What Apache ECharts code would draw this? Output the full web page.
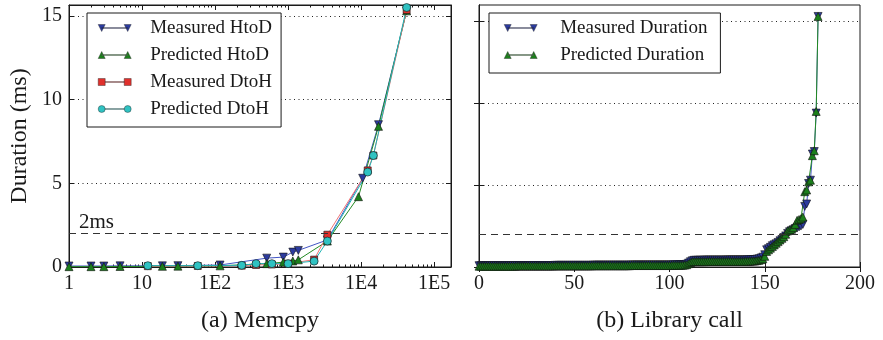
<!DOCTYPE html>
<html>
<head>
<meta charset="utf-8">
<script src="https://cdn.jsdelivr.net/npm/echarts@6/dist/echarts.min.js"></script>
<style>
  html, body { margin: 0; padding: 0; background: #ffffff; }
  #chart { width: 883px; height: 340px; }
</style>
</head>
<body>
<div id="chart"></div>
<script>
// ---- (a) Memcpy: transfer size (bytes) vs duration (ms) ----
const htodMeasuredSizes  = [1, 2, 3, 5, 19, 31, 117, 510, 860, 1160, 1380, 3450, 10500, 17300, 42000];
const htodMeasured       = [0.06, 0.06, 0.06, 0.07, 0.07, 0.08, 0.12, 0.53, 0.59, 0.89, 0.99, 1.62, 5.3, 8.5, 15.3];
const htodPredictedSizes = [1, 2, 3, 5, 19, 31, 117, 510, 860, 1160, 1380, 3450, 9200, 17300, 42000];
const htodPredicted      = [0.02, 0.02, 0.02, 0.03, 0.04, 0.05, 0.07, 0.2, 0.29, 0.36, 0.43, 1.55, 4.2, 8.4, 15.3];
const dtohSizes          = [12, 58, 232, 364, 600, 1000, 2270, 3450, 12300, 14700, 42000];
const dtohMeasured       = [0.05, 0.06, 0.08, 0.12, 0.15, 0.2, 0.44, 1.93, 5.77, 6.66, 15.35];
const dtohPredicted      = [0.08, 0.08, 0.1, 0.2, 0.2, 0.2, 0.35, 1.55, 5.67, 6.66, 15.5];

const memcpyTickValues  = [1, 10, 100, 1000, 10000, 100000];
const memcpyTickLabels  = ['1', '10', '1E2', '1E3', '1E4', '1E5'];
const memcpyMinorValues = [2, 3, 4, 5, 6, 7, 8, 9, 20, 30, 40, 50, 60, 70, 80, 90,
  200, 300, 400, 500, 600, 700, 800, 900, 2000, 3000, 4000, 5000, 6000, 7000, 8000, 9000,
  20000, 30000, 40000, 50000, 60000, 70000, 80000, 90000];

// ---- (b) Library call: per-call duration (ms), sorted ----
const libMeasured = [
  0.08, 0.08, 0.08, 0.08, 0.08, 0.08, 0.08, 0.08, 0.08, 0.08,
  0.08, 0.08, 0.08, 0.08, 0.08, 0.08, 0.08, 0.08, 0.08, 0.08,
  0.09, 0.09, 0.09, 0.09, 0.09, 0.09, 0.09, 0.09, 0.09, 0.09,
  0.09, 0.09, 0.09, 0.09, 0.09, 0.09, 0.09, 0.09, 0.09, 0.09,
  0.10, 0.10, 0.10, 0.10, 0.10, 0.10, 0.10, 0.10, 0.10, 0.10,
  0.10, 0.10, 0.10, 0.10, 0.10, 0.10, 0.10, 0.10, 0.10, 0.10,
  0.11, 0.11, 0.11, 0.11, 0.11, 0.11, 0.11, 0.11, 0.11, 0.11,
  0.11, 0.11, 0.11, 0.11, 0.11, 0.11, 0.11, 0.11, 0.11, 0.11,
  0.12, 0.12, 0.12, 0.12, 0.12, 0.12, 0.12, 0.12, 0.12, 0.12,
  0.12, 0.12, 0.12, 0.12, 0.12, 0.12, 0.12, 0.12, 0.12, 0.12,
  0.12, 0.12, 0.13, 0.13, 0.13, 0.13, 0.14, 0.14, 0.15, 0.17,
  0.24, 0.32, 0.38, 0.41, 0.41, 0.41, 0.41, 0.41, 0.42, 0.42,
  0.42, 0.42, 0.42, 0.42, 0.42, 0.42, 0.42, 0.42, 0.42, 0.42,
  0.43, 0.43, 0.43, 0.43, 0.43, 0.43, 0.43, 0.43, 0.43, 0.43,
  0.43, 0.44, 0.44, 0.45, 0.45, 0.46, 0.48, 0.50,
  0.55, 0.60, 0.75, 1.05, 1.12, 1.20, 1.30, 1.36, 1.42, 1.50,
  1.60, 1.68, 1.80, 1.90, 2.05, 2.15, 2.22, 2.28, 2.35, 2.40,
  2.45, 2.50, 2.60, 3.70, 3.85, 5.10, 5.30, 6.90, 7.05, 9.40,
  15.3
];
const libPredicted = [
  0.05, 0.05, 0.05, 0.05, 0.05, 0.05, 0.05, 0.05, 0.05, 0.05,
  0.05, 0.05, 0.05, 0.05, 0.05, 0.05, 0.05, 0.05, 0.05, 0.05,
  0.06, 0.06, 0.06, 0.06, 0.06, 0.06, 0.06, 0.06, 0.06, 0.06,
  0.06, 0.06, 0.06, 0.06, 0.06, 0.06, 0.06, 0.06, 0.06, 0.06,
  0.07, 0.07, 0.07, 0.07, 0.07, 0.07, 0.07, 0.07, 0.07, 0.07,
  0.07, 0.07, 0.07, 0.07, 0.07, 0.07, 0.07, 0.07, 0.07, 0.07,
  0.08, 0.08, 0.08, 0.08, 0.08, 0.08, 0.08, 0.08, 0.08, 0.08,
  0.08, 0.08, 0.08, 0.08, 0.08, 0.08, 0.08, 0.08, 0.08, 0.08,
  0.09, 0.09, 0.09, 0.09, 0.09, 0.09, 0.09, 0.09, 0.09, 0.09,
  0.09, 0.09, 0.09, 0.09, 0.09, 0.09, 0.09, 0.09, 0.09, 0.09,
  0.09, 0.09, 0.10, 0.10, 0.10, 0.10, 0.11, 0.11, 0.12, 0.14,
  0.20, 0.27, 0.32, 0.33, 0.33, 0.33, 0.33, 0.33, 0.33, 0.33,
  0.34, 0.34, 0.34, 0.34, 0.34, 0.34, 0.34, 0.34, 0.34, 0.34,
  0.34, 0.34, 0.34, 0.34, 0.34, 0.34, 0.34, 0.34, 0.34, 0.34,
  0.35, 0.35, 0.35, 0.36, 0.36, 0.37, 0.39, 0.41,
  0.45, 0.50, 0.65, 0.95, 1.05, 1.15, 1.25, 1.35, 1.45, 1.55,
  1.65, 1.75, 1.85, 2.00, 2.20, 2.25, 2.30, 2.40, 2.60, 2.85,
  2.90, 2.95, 3.05, 4.60, 4.70, 5.20, 5.30, 6.80, 7.10, 9.50,
  15.3
];
const libTickValues = [0, 50, 100, 150, 200];
const durationTicks = [0, 5, 10, 15];
const thresholdMs = 2;

// ---- styling ----
const FONT = "'Liberation Serif', 'Times New Roman', serif";
const INK = '#1a1a1a';
const COLORS = {
  blue:  { fill: '#2c3b9e', line: '#4356c4' },
  green: { fill: '#1b7f1b', line: '#238a23' },
  red:   { fill: '#e0302c', line: '#f07474' },
  cyan:  { fill: '#2fc2c2', line: '#1fb4b4' }
};

// legend glyphs: line segment with a marker at each end
const ICON_DOWN = 'path://M0,0 L7,0 L3.5,7 Z M26,0 L33,0 L29.5,7 Z M3.5,3.2 L29.5,3.2 L29.5,3.8 L3.5,3.8 Z';
const ICON_UP   = 'path://M0,7 L7,7 L3.5,0 Z M26,7 L33,7 L29.5,0 Z M3.5,3.2 L29.5,3.2 L29.5,3.8 L3.5,3.8 Z';
const ICON_SQ   = 'path://M0,0 L7,0 L7,7 L0,7 Z M26,0 L33,0 L33,7 L26,7 Z M7,3.2 L26,3.2 L26,3.8 L7,3.8 Z';
const ICON_CIRC = 'path://M0,3.5 A3.5,3.5 0 1,0 7,3.5 A3.5,3.5 0 1,0 0,3.5 Z M26,3.5 A3.5,3.5 0 1,0 33,3.5 A3.5,3.5 0 1,0 26,3.5 Z M7,3.2 L26,3.2 L26,3.8 L7,3.8 Z';

function pairs(xs, ys) { return ys.map((y, i) => [xs[i], y]); }
function indexed(ys) { return ys.map((y, i) => [i, y]); }

function tickAxis(extra) {
  return Object.assign({
    axisLine: { show: true, lineStyle: { color: INK, width: 1 } },
    axisTick: { show: true, inside: true, length: 5, lineStyle: { color: INK, width: 1 } },
    axisLabel: { show: false },
    splitLine: { show: false }
  }, extra);
}

function lineSeries(name, data, xi, yi, col, symbol, size, rotate, extra) {
  return Object.assign({
    name: name,
    type: 'line',
    xAxisIndex: xi,
    yAxisIndex: yi,
    data: data,
    symbol: symbol,
    symbolSize: size,
    symbolRotate: rotate,
    showAllSymbol: true,
    animation: false,
    lineStyle: { color: col.line, width: 1 },
    itemStyle: { color: col.fill, borderColor: '#111', borderWidth: 0.6 },
    emphasis: { disabled: true }
  }, extra || {});
}

function legendItem(name, icon, col) {
  return {
    name: name,
    icon: icon,
    itemStyle: { color: col.fill, borderColor: '#222', borderWidth: 0.4 },
    lineStyle: { color: col.line, width: 1 }
  };
}

function thresholdLine(showLabel) {
  return {
    silent: true,
    symbol: 'none',
    animation: false,
    lineStyle: { color: '#333', type: [7, 5], width: 1 },
    label: {
      show: showLabel,
      formatter: '2ms',
      position: 'insideStartTop',
      distance: [10, 1],
      color: INK,
      fontFamily: FONT,
      fontSize: 21
    },
    data: [{ yAxis: thresholdMs }]
  };
}

const legendCommon = {
  orient: 'vertical',
  top: 13,
  backgroundColor: '#ffffff',
  borderColor: INK,
  borderWidth: 1,
  borderRadius: 0,
  padding: [5, 9, 8, 11],
  itemWidth: 33,
  itemHeight: 8,
  itemGap: 7,
  symbolRotate: 0,
  selectedMode: false,
  textStyle: { color: INK, fontFamily: FONT, fontSize: 19, lineHeight: 20, padding: [0, 0, 0, 14] }
};

const option = {
  backgroundColor: '#ffffff',
  animation: false,
  grid: [
    { left: 69, top: 5, width: 382, height: 262, show: true, borderColor: INK, borderWidth: 1, backgroundColor: 'transparent' },
    { left: 479, top: 5, width: 381, height: 262, show: true, borderColor: INK, borderWidth: 1, backgroundColor: 'transparent' }
  ],
  legend: [
    Object.assign({}, legendCommon, {
      left: 87,
      data: [
        legendItem('Measured HtoD', ICON_DOWN, COLORS.blue),
        legendItem('Predicted HtoD', ICON_UP, COLORS.green),
        legendItem('Measured DtoH', ICON_SQ, COLORS.red),
        legendItem('Predicted DtoH', ICON_CIRC, COLORS.cyan)
      ]
    }),
    Object.assign({}, legendCommon, {
      left: 489,
      padding: [5, 13, 8, 15],
      textStyle: { color: INK, fontFamily: FONT, fontSize: 19, lineHeight: 20, padding: [0, 0, 0, 18] },
      data: [
        legendItem('Measured Duration', ICON_DOWN, COLORS.blue),
        legendItem('Predicted Duration', ICON_UP, COLORS.green)
      ]
    })
  ],
  xAxis: [
    // (a) bottom: decades with labels
    tickAxis({
      gridIndex: 0, type: 'log', logBase: 10, min: 1, max: 170000, position: 'bottom',
      axisTick: { show: true, inside: true, length: 5, customValues: memcpyTickValues, lineStyle: { color: INK } },
      axisLabel: {
        show: true, margin: 7, customValues: memcpyTickValues,
        formatter: v => memcpyTickLabels[memcpyTickValues.indexOf(v)] ?? '',
        color: INK, fontFamily: FONT, fontSize: 20
      },
      name: '(a) Memcpy', nameLocation: 'middle', nameGap: 42,
      nameTextStyle: { color: INK, fontFamily: FONT, fontSize: 24 }
    }),
    // (a) bottom minor ticks
    tickAxis({
      gridIndex: 0, type: 'log', min: 1, max: 170000, position: 'bottom',
      axisLine: { show: false },
      axisTick: { show: true, inside: true, length: 2.5, customValues: memcpyMinorValues, lineStyle: { color: INK } }
    }),
    // (a) top mirrored ticks
    tickAxis({
      gridIndex: 0, type: 'log', min: 1, max: 170000, position: 'top',
      axisTick: { show: true, inside: true, length: 5, customValues: memcpyTickValues, lineStyle: { color: INK } }
    }),
    tickAxis({
      gridIndex: 0, type: 'log', min: 1, max: 170000, position: 'top',
      axisLine: { show: false },
      axisTick: { show: true, inside: true, length: 2.5, customValues: memcpyMinorValues, lineStyle: { color: INK } }
    }),
    // (b) bottom with labels
    tickAxis({
      gridIndex: 1, type: 'value', min: 0, max: 200, interval: 50, position: 'bottom',
      axisTick: { show: true, inside: true, length: 5, customValues: libTickValues, lineStyle: { color: INK } },
      axisLabel: { show: true, margin: 7, customValues: libTickValues, color: INK, fontFamily: FONT, fontSize: 20 },
      name: '(b) Library call', nameLocation: 'middle', nameGap: 42,
      nameTextStyle: { color: INK, fontFamily: FONT, fontSize: 24 }
    }),
    // (b) top mirrored ticks
    tickAxis({
      gridIndex: 1, type: 'value', min: 0, max: 200, interval: 50, position: 'top',
      axisTick: { show: true, inside: true, length: 5, customValues: libTickValues, lineStyle: { color: INK } }
    })
  ],
  yAxis: [
    tickAxis({
      gridIndex: 0, type: 'value', min: 0, max: 15.65, interval: 5, position: 'left',
      axisTick: { show: true, inside: true, length: 5, customValues: durationTicks, lineStyle: { color: INK } },
      axisLabel: { show: true, margin: 7, customValues: durationTicks, color: INK, fontFamily: FONT, fontSize: 20 },
      splitLine: { show: true, lineStyle: { color: '#222', type: [1, 3.5], width: 1 } },
      name: 'Duration (ms)', nameLocation: 'middle', nameGap: 37, nameRotate: 90,
      nameTextStyle: { color: INK, fontFamily: FONT, fontSize: 24 }
    }),
    tickAxis({
      gridIndex: 0, type: 'value', min: 0, max: 15.65, interval: 5, position: 'right',
      axisTick: { show: true, inside: true, length: 5, customValues: durationTicks, lineStyle: { color: INK } }
    }),
    tickAxis({
      gridIndex: 1, type: 'value', min: 0, max: 16, interval: 5, position: 'left',
      axisTick: { show: true, inside: true, length: 5, customValues: durationTicks, lineStyle: { color: INK } },
      splitLine: { show: true, lineStyle: { color: '#222', type: [1, 3.5], width: 1 } }
    }),
    tickAxis({
      gridIndex: 1, type: 'value', min: 0, max: 16, interval: 5, position: 'right',
      axisTick: { show: true, inside: true, length: 5, customValues: durationTicks, lineStyle: { color: INK } }
    })
  ],
  series: [
    lineSeries('Measured HtoD', pairs(htodMeasuredSizes, htodMeasured), 0, 0, COLORS.blue, 'triangle', 8, 180,
      { markLine: thresholdLine(true) }),
    lineSeries('Predicted HtoD', pairs(htodPredictedSizes, htodPredicted), 0, 0, COLORS.green, 'triangle', 8, 0),
    lineSeries('Measured DtoH', pairs(dtohSizes, dtohMeasured), 0, 0, COLORS.red, 'rect', 7, 0),
    lineSeries('Predicted DtoH', pairs(dtohSizes, dtohPredicted), 0, 0, COLORS.cyan, 'circle', 8, 0),
    lineSeries('Measured Duration', indexed(libMeasured), 4, 2, COLORS.blue, 'triangle', 8, 180,
      { markLine: thresholdLine(false) }),
    lineSeries('Predicted Duration', indexed(libPredicted), 4, 2, COLORS.green, 'triangle', 8, 0)
  ]
};

const chart = echarts.init(document.getElementById('chart'), null, { renderer: 'canvas' });
chart.setOption(option);
</script>
</body>
</html>
